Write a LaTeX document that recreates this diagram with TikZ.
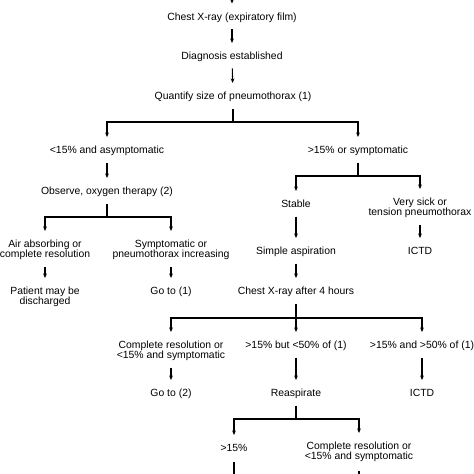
\documentclass[tikz,border=0pt]{standalone}
\usepackage{fontspec}
\setmainfont{Liberation Sans}
\usetikzlibrary{arrows.meta}
\tikzset{
  lbl/.style={inner sep=0pt, align=center, font={\fontsize{10.4}{10}\selectfont}, text height=7.5pt, text depth=2.1pt},
  lbltwo/.style={inner sep=0pt, align=center, font={\fontsize{10.4}{10}\selectfont}},
  ln/.style={line width=1.1pt, shorten <=6.5pt},
  arr/.style={line width=1.1pt, -{Stealth[length=4.5pt,width=3.8pt]}, shorten <=6.5pt, shorten >=9pt},
  brarr/.style={line width=1.1pt, -{Stealth[length=4.5pt,width=3.8pt]}, shorten >=9pt},
}
\begin{document}
\begin{tikzpicture}[x=1pt,y=-1pt]
\useasboundingbox (0,0) rectangle (474,474);
% nodes
\coordinate (top) at (232,-8);
\node[lbl] (cx1) at (232,17.5) {Chest X-ray (expiratory film)};
\node[lbl] (diag) at (232,57) {Diagnosis established};
\node[lbl] (quant) at (233,97) {Quantify size of pneumothorax (1)};
\coordinate (b1) at (233,122);
\node[lbl] (lt15) at (107,151) {<15\% and asymptomatic};
\node[lbl] (gt15) at (358,151) {>15\% or symptomatic};
\node[lbl] (obs) at (107,192) {Observe, oxygen therapy (2)};
\coordinate (b2) at (107,217);
\node[lbltwo] (air) at (45,250) {Air absorbing or\\complete resolution};
\node[lbltwo] (sym) at (171,250) {Symptomatic or\\pneumothorax increasing};
\node[lbltwo] (pat) at (45,297) {Patient may be\\discharged};
\node[lbl] (goto1) at (171,292) {Go to (1)};
\coordinate (b3) at (358,176);
\node[lbl] (stable) at (296,205) {Stable};
\node[lbltwo] (sick) at (420,208) {Very sick or\\tension pneumothorax};
\node[lbl] (simple) at (296,252) {Simple aspiration};
\node[lbl] (ictd1) at (420,252) {ICTD};
\node[lbl] (cx4) at (296,292) {Chest X-ray after 4 hours};
\coordinate (b4) at (296,318);
\node[lbltwo] (comp1) at (171,351) {Complete resolution or\\<15\% and symptomatic};
\node[lbl] (mid) at (296,346) {>15\% but <50\% of (1)};
\node[lbl] (big) at (422,346) {>15\% and >50\% of (1)};
\node[lbl] (goto2) at (171,394) {Go to (2)};
\node[lbl] (reasp) at (296,394) {Reaspirate};
\node[lbl] (ictd2) at (422,394) {ICTD};
\coordinate (b5) at (296,419);
\node[lbl] (g15) at (234,449) {>15\%};
\node[lbltwo] (comp2) at (359,452) {Complete resolution or\\<15\% and symptomatic};
\coordinate (e1) at (234,480);
\coordinate (e2) at (359,480);
% connectors
\draw[arr, shorten <=0pt] (top) -- (cx1);
\draw[arr] (cx1) -- (diag);
\draw[arr] (diag) -- (quant);
\draw[ln] (quant) -- (b1);
\draw[brarr] (b1) -| (lt15);
\draw[brarr] (b1) -| (gt15);
\draw[arr] (lt15) -- (obs);
\draw[ln] (obs) -- (b2);
\draw[brarr] (b2) -| (air);
\draw[brarr] (b2) -| (sym);
\draw[arr] (air) -- (pat);
\draw[arr] (sym) -- (goto1);
\draw[ln] (gt15) -- (b3);
\draw[brarr] (b3) -| (stable);
\draw[brarr] (b3) -| (sick);
\draw[arr] (stable) -- (simple);
\draw[arr] (sick) -- (ictd1);
\draw[arr] (simple) -- (cx4);
\draw[ln] (cx4) -- (b4);
\draw[brarr] (b4) -| (comp1);
\draw[brarr] (b4) -- (mid);
\draw[brarr] (b4) -| (big);
\draw[arr] (comp1) -- (goto2);
\draw[arr] (mid) -- (reasp);
\draw[arr] (big) -- (ictd2);
\draw[ln] (reasp) -- (b5);
\draw[brarr] (b5) -| (g15);
\draw[brarr] (b5) -| (comp2);
\draw[ln, shorten <=8pt] (g15) -- (e1);
\draw[ln, shorten <=9pt] (comp2) -- (e2);
\end{tikzpicture}
\end{document}
